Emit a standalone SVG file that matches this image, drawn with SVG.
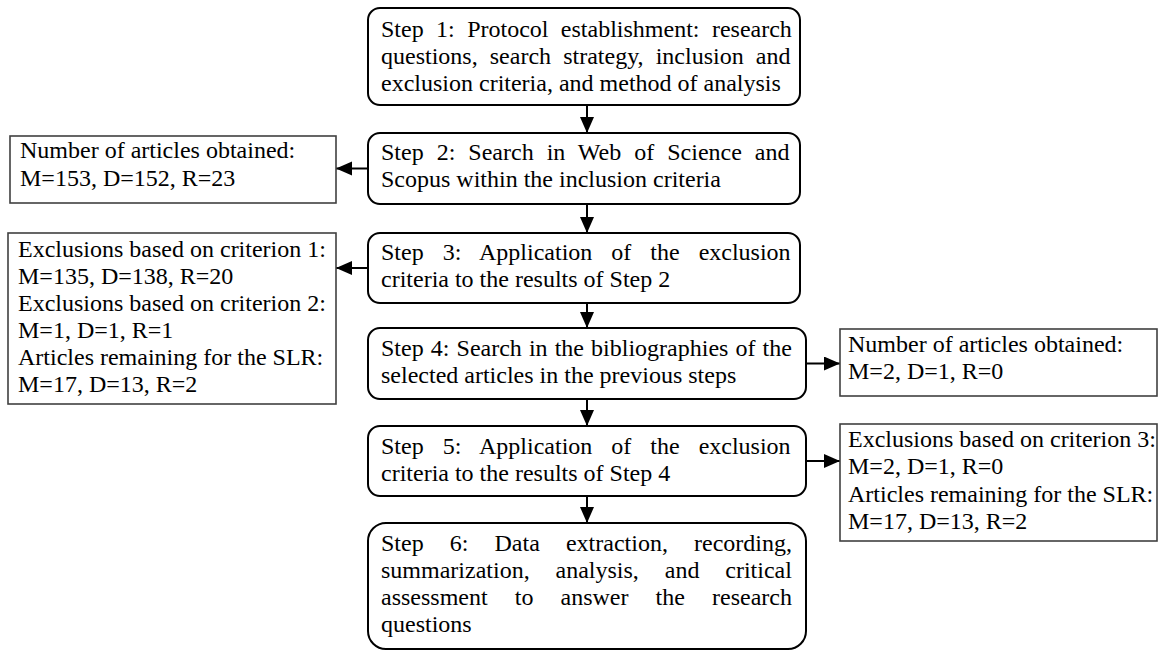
<svg xmlns="http://www.w3.org/2000/svg" width="1160" height="651" viewBox="0 0 1160 651">
<defs>
<style>
text{font-family:"Liberation Serif","Times New Roman",serif;font-size:24px;fill:#000}
.step{fill:#fff;stroke:#000;stroke-width:2}
.side{fill:#fff;stroke:#404040;stroke-width:1.6}
.conn{stroke:#000;stroke-width:2;fill:none;marker-end:url(#ah)}
</style>
<marker id="ah" markerUnits="userSpaceOnUse" markerWidth="17" markerHeight="15" refX="16" refY="7" orient="auto">
<path d="M0,0 L16,7 L0,14 z" fill="#000"/>
</marker>
</defs>
<rect width="1160" height="651" fill="#fff"/>
<g id="connectors">
<line class="conn" x1="587" y1="105" x2="587" y2="133"/>
<line class="conn" x1="587" y1="204" x2="587" y2="233"/>
<line class="conn" x1="587" y1="303" x2="587" y2="328"/>
<line class="conn" x1="587" y1="399" x2="587" y2="426"/>
<line class="conn" x1="587" y1="496" x2="587" y2="523"/>
<line class="conn" x1="368" y1="168.5" x2="336" y2="168.5"/>
<line class="conn" x1="368" y1="268" x2="336" y2="268"/>
<line class="conn" x1="806" y1="363.5" x2="840" y2="363.5"/>
<line class="conn" x1="806" y1="461" x2="840" y2="461"/>
</g>
<g id="step1">
<rect class="step" x="368" y="8" width="432" height="97" rx="12"/>
<text x="381" y="36.5" word-spacing="6.4">Step 1: Protocol establishment: research</text>
<text x="381" y="63.5" word-spacing="6.1">questions, search strategy, inclusion and</text>
<text x="381" y="90.5">exclusion criteria, and method of analysis</text>
</g>
<g id="step2">
<rect class="step" x="368" y="133" width="432" height="71" rx="12"/>
<text x="381" y="160" word-spacing="7">Step 2: Search in Web of Science and</text>
<text x="381" y="187">Scopus within the inclusion criteria</text>
</g>
<g id="step3">
<rect class="step" x="368" y="233" width="432" height="70" rx="12"/>
<text x="381" y="260" word-spacing="13">Step 3: Application of the exclusion</text>
<text x="381" y="287">criteria to the results of Step 2</text>
</g>
<g id="step4">
<rect class="step" x="368" y="328" width="438" height="71" rx="12"/>
<text x="381" y="356" word-spacing="1.1">Step 4: Search in the bibliographies of the</text>
<text x="381" y="383">selected articles in the previous steps</text>
</g>
<g id="step5">
<rect class="step" x="368" y="426" width="438" height="70" rx="12"/>
<text x="381" y="454" word-spacing="13">Step 5: Application of the exclusion</text>
<text x="381" y="481">criteria to the results of Step 4</text>
</g>
<g id="step6">
<rect class="step" x="368" y="523" width="438" height="126" rx="18"/>
<text x="381" y="551" word-spacing="20.1">Step 6: Data extraction, recording,</text>
<text x="381" y="578" word-spacing="19.9">summarization, analysis, and critical</text>
<text x="381" y="605" word-spacing="21.1">assessment to answer the research</text>
<text x="381" y="632">questions</text>
</g>
<g id="found1">
<rect class="side" x="10" y="136" width="326" height="67"/>
<text x="20" y="158">Number of articles obtained:</text>
<text x="20" y="186">M=153, D=152, R=23</text>
</g>
<g id="excl12">
<rect class="side" x="8" y="233" width="328" height="171"/>
<text x="18" y="257">Exclusions based on criterion 1:</text>
<text x="18" y="284">M=135, D=138, R=20</text>
<text x="18" y="311">Exclusions based on criterion 2:</text>
<text x="18" y="338">M=1, D=1, R=1</text>
<text x="18" y="365">Articles remaining for the SLR:</text>
<text x="18" y="392">M=17, D=13, R=2</text>
</g>
<g id="found2">
<rect class="side" x="840" y="329" width="317" height="67"/>
<text x="848" y="352">Number of articles obtained:</text>
<text x="848" y="379">M=2, D=1, R=0</text>
</g>
<g id="excl3">
<rect class="side" x="840" y="424" width="317" height="117"/>
<text x="848" y="447">Exclusions based on criterion 3:</text>
<text x="848" y="474">M=2, D=1, R=0</text>
<text x="848" y="502">Articles remaining for the SLR:</text>
<text x="848" y="529">M=17, D=13, R=2</text>
</g>
</svg>
